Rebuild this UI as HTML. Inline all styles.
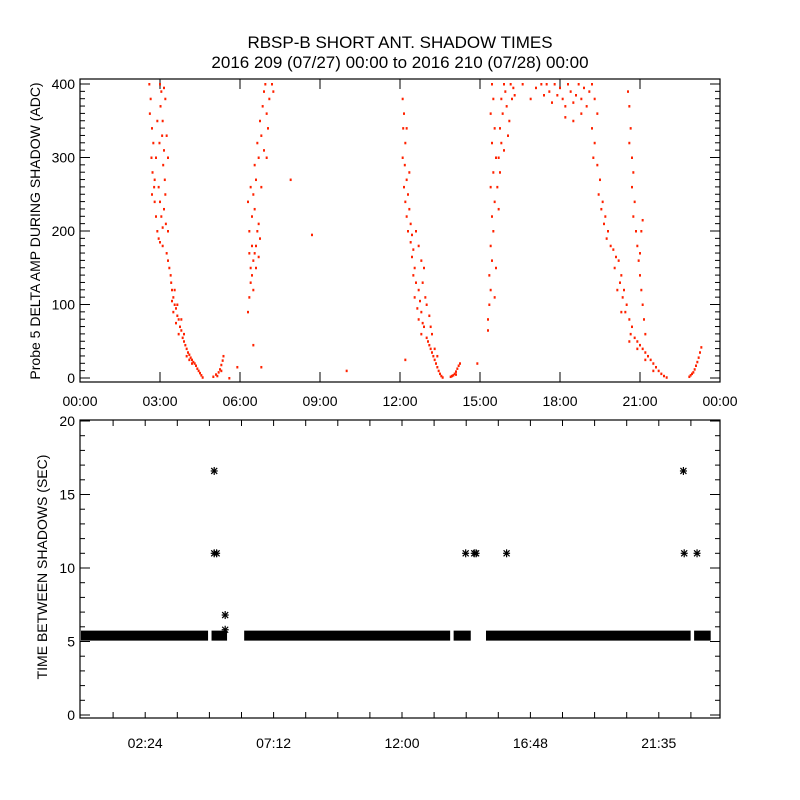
<!DOCTYPE html>
<html><head><meta charset="utf-8"><title>RBSP-B Short Ant. Shadow Times</title>
<style>
html,body{margin:0;padding:0;background:#fff;}
svg{display:block;font-family:"Liberation Sans",sans-serif;}
</style></head>
<body>
<svg id="chart" width="800" height="800" viewBox="0 0 800 800">
<text x="400" y="48" text-anchor="middle" font-size="17">RBSP-B SHORT ANT. SHADOW TIMES</text>
<text x="400" y="68" text-anchor="middle" font-size="17">2016 209 (07/27) 00:00 to 2016 210 (07/28) 00:00</text>
<g id="topPanel"></g>
<g id="botPanel"></g>
<text transform="translate(40,231) rotate(-90)" text-anchor="middle" font-size="14">Probe 5 DELTA AMP DURING SHADOW (ADC)</text>
<text transform="translate(47,567) rotate(-90)" text-anchor="middle" font-size="14">TIME BETWEEN SHADOWS (SEC)</text>
</svg>
<script>
const NS="http://www.w3.org/2000/svg";
// ---- top panel data ----
const topXTickHours=[0,3,6,9,12,15,18,21,24];
const topXTickLabels=["00:00","03:00","06:00","09:00","12:00","15:00","18:00","21:00","00:00"];
const topYTicks=[0,100,200,300,400];
const ampHours=[
2.6,2.65,2.62,2.7,2.75,2.68,2.72,2.78,2.8,2.85,2.9,2.95,3.0,3.05,3.02,3.1,3.08,3.15,3.12,3.18,3.2,3.15,3.22,3.1,3.25,2.85,2.95,3.0,3.05,2.9,3.2,3.25,3.3,3.3,3.0,2.8,2.7,3.1,2.98,3.15,
3.3,3.35,3.4,3.42,3.45,3.5,3.55,3.6,3.5,3.65,3.7,3.6,3.75,3.8,3.7,3.85,3.9,3.95,4.0,4.05,4.1,4.15,4.2,4.25,4.3,4.35,4.4,4.45,4.5,4.55,4.6,4.0,4.1,4.2,3.8,3.9,3.45,3.55,3.65,
5.1,5.2,5.25,5.3,5.35,5.38,5.15,5.0,5.3,
6.3,6.35,6.4,6.45,6.5,6.4,6.5,6.55,6.6,6.35,6.45,6.3,6.5,6.4,6.55,6.7,6.75,6.65,6.6,6.55,6.7,6.65,6.8,6.75,6.85,6.9,6.95,7.0,7.05,6.9,7.1,7.2,7.25,7.0,6.8,6.45,6.6,6.7,6.35,
7.9,8.7,6.5,5.9,6.8,10.0,5.6,
12.1,12.15,12.12,12.2,12.1,12.18,12.25,12.15,12.3,12.2,12.35,12.25,12.4,12.3,12.45,12.4,12.5,12.45,12.55,12.5,12.6,12.7,12.55,12.75,12.65,12.8,12.7,12.85,12.9,12.8,13.0,13.05,13.1,13.15,13.2,13.25,13.3,13.35,13.4,13.45,13.5,13.55,13.6,12.9,12.85,13.0,12.95,13.1,13.15,12.6,12.7,12.8,13.2,13.3,13.4,12.25,12.35,
13.9,14.0,14.05,14.1,14.15,14.2,14.25,13.95,14.1,12.2,14.9,
15.3,15.3,15.35,15.4,15.35,15.45,15.4,15.5,15.45,15.55,15.4,15.5,15.6,15.45,15.55,15.4,15.5,15.45,15.65,15.7,15.75,15.7,15.8,15.75,15.85,15.8,15.9,15.95,16.0,16.1,16.05,16.15,16.2,15.9,16.25,16.3,15.6,15.55,16.6,
17.1,17.3,17.4,17.5,17.6,17.7,17.8,17.9,18.0,18.1,18.2,18.3,18.4,18.5,18.6,18.7,18.8,18.9,19.0,19.1,19.2,19.3,19.4,18.5,18.2,18.8,16.9,
19.2,19.3,19.25,19.4,19.5,19.45,19.6,19.55,19.7,19.65,19.8,19.75,19.9,20.0,20.1,20.2,20.05,20.3,20.25,20.4,20.35,20.5,20.45,20.6,20.7,20.65,20.8,20.9,21.0,21.1,21.2,21.3,21.4,21.5,21.6,21.7,21.8,21.9,22.0,20.15,20.3,20.6,20.9,21.2,21.5,
20.55,20.6,20.65,20.6,20.7,20.75,20.7,20.8,20.75,20.85,20.9,20.95,21.0,21.05,21.1,21.15,21.2,21.05,21.1,21.0,
22.85,22.9,23.0,23.05,23.1,23.15,23.2,23.25,23.3,22.95];
const ampValues=[
400,380,360,340,320,300,280,260,240,220,200,190,400,390,370,350,330,310,290,270,250,230,210,180,170,300,260,240,220,350,380,330,300,200,185,270,250,205,320,395,
160,150,140,130,120,110,100,95,90,85,80,75,70,65,60,55,50,45,40,35,32,28,25,22,20,17,13,10,7,4,1,30,25,20,80,60,105,120,100,
5,8,12,18,24,30,3,2,10,
90,110,130,140,120,150,160,170,180,200,220,240,250,260,230,210,190,200,270,290,300,320,330,350,370,390,400,360,340,310,380,400,390,300,260,180,150,165,170,
270,195,45,15,15,10,0,
380,360,340,320,300,290,270,260,250,240,230,220,210,200,195,185,175,165,150,140,130,120,110,105,95,90,80,75,70,60,55,50,45,40,35,30,25,20,15,10,6,3,1,150,130,100,110,85,70,200,180,160,60,40,30,340,280,
2,4,6,9,13,17,20,3,5,25,20,
65,80,100,120,140,160,180,200,220,240,260,280,300,320,340,360,380,400,260,230,280,300,320,340,360,380,400,390,370,350,330,400,380,310,395,385,150,110,400,
395,400,385,400,390,375,400,385,395,380,370,400,390,375,385,400,380,395,370,390,400,380,360,350,355,360,380,
340,320,300,290,270,250,240,230,220,210,200,190,180,175,165,160,150,140,130,120,110,100,90,80,70,60,55,50,45,40,35,30,25,20,15,10,6,3,1,120,90,50,40,25,10,
390,370,340,320,300,280,260,240,220,200,180,160,140,120,100,80,60,200,215,170,
2,4,8,12,17,22,28,35,42,6];
// ---- bottom panel data ----
const botXTickHours=[1.2,2.4,3.6,4.8,6.0,7.2,8.4,9.6,10.8,12.0,13.2,14.4,15.6,16.8,18.0,19.2,20.4,21.6,22.8];
const botXLabelHours=[2.4,7.2,12.0,16.8,21.6];
const botXLabels=["02:24","07:12","12:00","16:48","21:35"];
const botYTicks=[0,5,10,15,20];
const gapSegStart=[0.0,4.88,6.1,13.93,15.14,22.92];
const gapSegEnd=[4.75,5.46,13.8,14.57,22.79,23.54];
const gapSegValue=[5.4,5.4,5.4,5.4,5.4,5.4];
const outlierHours=[4.98,4.98,5.07,5.39,5.39,14.38,14.7,14.77,15.91,22.52,22.55,23.03];
const outlierValues=[16.6,11.0,11.0,6.8,5.8,11.0,11.0,11.0,11.0,16.6,11.0,11.0];

// ---- axes ----
const T={x0:80,x1:720,y0:382,y1:79,vy0:378,vy1:84};
const tx=h=>T.x0+(h/24)*(T.x1-T.x0);
const ty=v=>T.vy0-(v/400)*(T.vy0-T.vy1);
const B={x0:80,x1:720,y0:718,y1:420};
const bx=h=>81+(h/24)*642;
const by=v=>715-(v/20)*294;

function mk(tag,attrs,parent){const e=document.createElementNS(NS,tag);for(const k in attrs)e.setAttribute(k,attrs[k]);parent.appendChild(e);return e;}
const topG=document.getElementById('topPanel');
const botG=document.getElementById('botPanel');

// top frame
let fr=mk('rect',{x:T.x0,y:T.y1,width:T.x1-T.x0,height:T.y0-T.y1,fill:'none',stroke:'#000','stroke-width':1.2},topG);


topXTickHours.forEach((h,i)=>{
  const x=tx(h);
  let t=mk('line',{x1:x,x2:x,y1:T.y0,y2:T.y0-10,stroke:'#000'},topG);
  
  
  let t2=mk('line',{x1:x,x2:x,y1:T.y1,y2:T.y1+10,stroke:'#000'},topG);
  
  
  let l=mk('text',{x:x,y:406,'text-anchor':'middle','font-size':14},topG);
  l.textContent=topXTickLabels[i];
  
  
});
for(let v=0;v<=400;v+=10){
  const y=ty(v);const major=topYTicks.includes(v);const len=major?10:5;
  let a=mk('line',{x1:T.x0,x2:T.x0+len,y1:y,y2:y,stroke:'#000'},topG);
  
  
  let b=mk('line',{x1:T.x1,x2:T.x1-len,y1:y,y2:y,stroke:'#000'},topG);
  
  
}
topYTicks.forEach(v=>{
  let l=mk('text',{x:75,y:ty(v)+5,'text-anchor':'end','font-size':14},topG);
  l.textContent=String(v);
  
  
});
const nPts=Math.min(ampHours.length,ampValues.length);
for(let i=0;i<nPts;i++){
  let p=mk('rect',{x:tx(ampHours[i])-1,y:ty(ampValues[i])-1,width:2,height:2.5,fill:'#ff2200'},topG);
  
  
}

// bottom frame
let fb=mk('rect',{x:B.x0,y:B.y1,width:B.x1-B.x0,height:B.y0-B.y1,fill:'none',stroke:'#000','stroke-width':1.2},botG);


botXTickHours.forEach(h=>{
  const x=bx(h);
  let t=mk('line',{x1:x,x2:x,y1:B.y0,y2:B.y0-6,stroke:'#000'},botG);
  
  
  let t2=mk('line',{x1:x,x2:x,y1:B.y1,y2:B.y1+6,stroke:'#000'},botG);
  
  
});
botXLabelHours.forEach((h,i)=>{
  let l=mk('text',{x:bx(h),y:748,'text-anchor':'middle','font-size':14},botG);
  l.textContent=botXLabels[i];
  
  
});
for(let v=0;v<=20;v+=1){
  const y=by(v);const major=botYTicks.includes(v);const len=major?10:5;
  let a=mk('line',{x1:B.x0,x2:B.x0+len,y1:y,y2:y,stroke:'#000'},botG);
  
  
  let b=mk('line',{x1:B.x1,x2:B.x1-len,y1:y,y2:y,stroke:'#000'},botG);
  
  
}
botYTicks.forEach(v=>{
  let l=mk('text',{x:75,y:by(v)+5,'text-anchor':'end','font-size':14},botG);
  l.textContent=String(v);
  
  
});
gapSegStart.forEach((s,i)=>{
  const x0=Math.max(bx(s),B.x0),x1=bx(gapSegEnd[i]),yc=by(gapSegValue[i]);
  let r=mk('rect',{x:x0,y:yc-5,width:x1-x0,height:10,fill:'#000'},botG);
  
  
});
function star(cx,cy){
  const g=mk('g',{stroke:'#000','stroke-width':1.2},botG);
  
  
  mk('line',{x1:cx-3.5,x2:cx+3.5,y1:cy,y2:cy},g);
  mk('line',{x1:cx,x2:cx,y1:cy-4,y2:cy+4},g);
  mk('line',{x1:cx-3,x2:cx+3,y1:cy-3,y2:cy+3},g);
  mk('line',{x1:cx-3,x2:cx+3,y1:cy+3,y2:cy-3},g);
}
outlierHours.forEach((h,i)=>star(bx(h),by(outlierValues[i])));
</script>
</body></html>
